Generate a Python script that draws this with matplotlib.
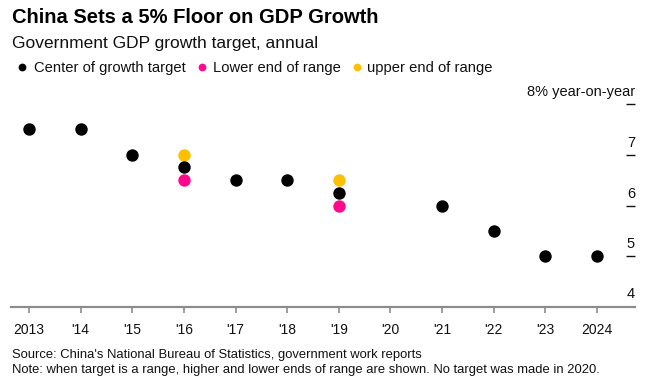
import matplotlib
matplotlib.use("Agg")
import matplotlib.pyplot as plt
from matplotlib.lines import Line2D
import matplotlib.transforms as mtransforms

plt.rcParams['font.family'] = ['Liberation Sans', 'DejaVu Sans']

# ---- data ----
years = [2013, 2014, 2015, 2016, 2017, 2018, 2019, 2021, 2022, 2023, 2024]
center = [7.5, 7.5, 7.0, 6.75, 6.5, 6.5, 6.25, 6.0, 5.5, 5.0, 5.0]
range_years = [2016, 2019]
range_low = [6.5, 6.0]
range_high = [7.0, 6.5]

tick_years = list(range(2013, 2025))
tick_labels = ['2013', "'14", "'15", "'16", "'17", "'18", "'19", "'20", "'21", "'22", "'23", '2024']
y_ticks = [4, 5, 6, 7, 8]
y_labels = ['4', '5', '6', '7', '8% year-on-year']

C_CENTER = '#000000'
C_LOW = '#ff0a8c'
C_HIGH = '#ffc000'

W, H = 658, 387
fig = plt.figure(figsize=(W / 100, H / 100), dpi=100)

def fx(px):
    return px / W

def fy(py):
    return 1 - py / H

ax_left, ax_right, ax_bottom, ax_top = 11, 635, 307, 104
ax = fig.add_axes([fx(ax_left), fy(ax_bottom), (ax_right - ax_left) / W, (ax_bottom - ax_top) / H])

ms = 80
ax.scatter(range_years, range_high, s=ms, color=C_HIGH, zorder=3, linewidths=0)
ax.scatter(years, center, s=ms, color=C_CENTER, zorder=4, linewidths=0)
ax.scatter(range_years, range_low, s=ms, color=C_LOW, zorder=5, linewidths=0)

ax.set_xlim(2012.651, 2024.735)
ax.set_ylim(4, 8)

for s in ['top', 'left', 'right']:
    ax.spines[s].set_visible(False)
ax.spines['bottom'].set_color('#8c8c8c')
ax.spines['bottom'].set_linewidth(1.6)

ax.set_xticks(tick_years)
ax.set_xticklabels(tick_labels, fontsize=10, color='#111111')
ax.tick_params(axis='x', direction='out', length=4.5, width=1.2, color='#8c8c8c', pad=7)

ax.set_yticks([])
# y-axis dashes and labels at right, inside the plot
for v, lab in zip(y_ticks, y_labels):
    if v != 4:
        ax.plot([0.986, 1.0], [v, v], transform=ax.get_yaxis_transform(), color='#111111',
                lw=1.0, clip_on=False, solid_capstyle='butt')
    off = mtransforms.offset_copy(ax.get_yaxis_transform(), fig=fig, x=0, y=8 if v != 4 else 9, units='dots')
    ax.text(1.0, v, lab, transform=off, ha='right', va='baseline', fontsize=10.5, color='#111111')

ax.patch.set_alpha(0)

# titles
fig.text(fx(12), fy(23), 'China Sets a 5% Floor on GDP Growth', fontsize=14.5, fontweight='bold',
         ha='left', va='baseline', color='#000000')
fig.text(fx(12), fy(48), 'Government GDP growth target, annual', fontsize=12.5,
         ha='left', va='baseline', color='#111111')

# legend
leg_items = [(22, 34, 'Center of growth target', C_CENTER),
             (202, 213, 'Lower end of range', C_LOW),
             (357, 367, 'upper end of range', C_HIGH)]
for dx, tx, lab, col in leg_items:
    fig.add_artist(Line2D([fx(dx)], [fy(67)], marker='o', markersize=5.6, color=col, linestyle='none',
                          markeredgewidth=0, transform=fig.transFigure))
    fig.text(fx(tx), fy(72), lab, fontsize=10.6, ha='left', va='baseline', color='#111111')

# footer
fig.text(fx(12), fy(358), "Source: China's National Bureau of Statistics, government work reports",
         fontsize=9.4, ha='left', va='baseline', color='#111111')
fig.text(fx(12), fy(373), "Note: when target is a range, higher and lower ends of range are shown. No target was made in 2020.",
         fontsize=9.4, ha='left', va='baseline', color='#111111')

fig.savefig('out.png', dpi=100, facecolor='white')
